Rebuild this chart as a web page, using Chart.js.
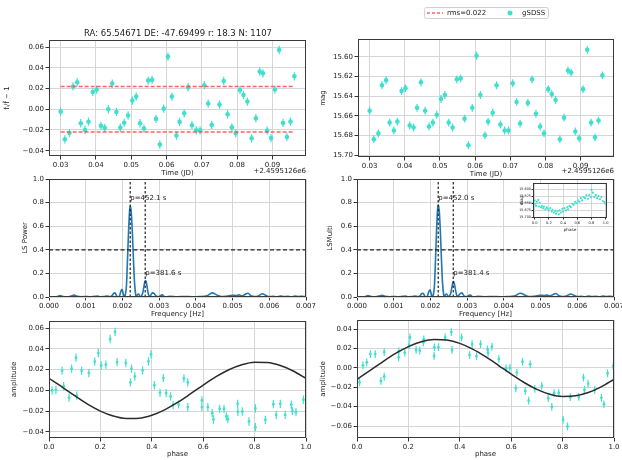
<!DOCTYPE html>
<html>
<head>
<meta charset="utf-8">
<script src="https://cdn.jsdelivr.net/npm/chart.js@4.4.1/dist/chart.umd.min.js"></script>
<style>
  html, body { margin: 0; padding: 0; background: #fff; }
  body { width: 622px; height: 460px; position: relative; overflow: hidden; }
  canvas { position: absolute; }
</style>
</head>
<body>
<canvas id="tl"></canvas>
<canvas id="tr"></canvas>
<canvas id="ml"></canvas>
<canvas id="mr"></canvas>
<canvas id="bl"></canvas>
<canvas id="br"></canvas>
<canvas id="inset"></canvas>
<script>
// light curve (time is JD - 2459512.6)
const timeJD = [0.0300,0.0312,0.0325,0.0335,0.0347,0.0357,0.0369,0.0379,0.0391,0.0402,0.0414,0.0425,0.0435,0.0446,0.0458,0.0469,0.0480,0.0491,0.0503,0.0514,0.0525,0.0536,0.0548,0.0559,0.0570,0.0581,0.0592,0.0604,0.0615,0.0628,0.0637,0.0650,0.0661,0.0672,0.0684,0.0695,0.0707,0.0718,0.0728,0.0750,0.0762,0.0773,0.0785,0.0796,0.0808,0.0818,0.0829,0.0841,0.0853,0.0864,0.0873,0.0885,0.0896,0.0907,0.0919,0.0930,0.0941,0.0951,0.0962];
const relFlux = [-0.0023,-0.029,-0.023,0.022,0.026,-0.0135,-0.020,-0.012,0.0167,0.019,-0.016,-0.018,0.000,0.0248,-0.0026,-0.0177,-0.013,-0.006,0.0084,0.0122,-0.0135,-0.0186,0.0277,0.0283,-0.0093,-0.034,0.0006,0.0508,0.0122,-0.0254,-0.0122,-0.0039,0.0212,-0.0154,-0.0203,-0.0203,0.0232,0.0055,-0.0151,0.0045,0.0273,-0.0048,-0.0174,-0.0232,0.0186,0.0138,0.0074,-0.028,-0.0087,0.0363,0.0347,-0.0206,-0.0277,0.019,0.0572,-0.0132,-0.0267,-0.0119,0.0318];
const magG = [15.655,15.684,15.678,15.629,15.624,15.667,15.675,15.666,15.635,15.632,15.670,15.672,15.652,15.626,15.655,15.671,15.667,15.659,15.643,15.639,15.667,15.672,15.623,15.622,15.663,15.690,15.652,15.599,15.639,15.680,15.666,15.657,15.629,15.669,15.675,15.675,15.627,15.646,15.668,15.647,15.623,15.658,15.671,15.678,15.633,15.638,15.644,15.684,15.662,15.614,15.616,15.676,15.683,15.633,15.593,15.667,15.682,15.665,15.619];
const fluxErr = 0.004;
const magErr = 0.004;
const rms = 0.022;
const jdOffset = '+2.4595126e6';
const titleText = 'RA: 65.54671 DE: -47.69499 r: 18.3 N: 1107';
const timeTicks = [0.03, 0.04, 0.05, 0.06, 0.07, 0.08, 0.09];
const fluxTicks = [-0.04, -0.02, 0, 0.02, 0.04, 0.06];
const magTicks = [15.60, 15.62, 15.64, 15.66, 15.68, 15.70];

// periodograms
const lsFreq = [0.00022,0.00030,0.00038,0.00050,0.00060,0.00068,0.00076,0.00090,0.00100,0.00110,
  0.00125,0.00132,0.00140,0.00150,0.00158,0.00165,0.00172,0.00176,0.00180,0.00184,
  0.00188,0.00192,0.00196,0.00199,0.00202,0.00205,0.00208,0.00211,0.00214,0.00217,
  0.00220,0.00222,0.00224,0.00227,0.00230,0.00233,0.00236,0.00238,0.00241,0.00244,
  0.00247,0.00250,0.00252,0.00255,0.00258,0.00261,0.00263,0.00265,0.00268,0.00271,
  0.00274,0.00278,0.00282,0.00286,0.00290,0.00294,0.00300,0.00305,0.00309,0.00313,
  0.00320,0.00330,0.00350,0.00370,0.00390,0.00410,0.00430,0.00445,0.00460,0.00470,
  0.00480,0.00490,0.00500,0.00510,0.00518,0.00525,0.00533,0.00542,0.00550,0.00560,
  0.00570,0.00582,0.00590,0.00600,0.00610,0.00620,0.00630,0.00640,0.00650,0.00660,
  0.00670,0.00680,0.00690,0.00697];
const lsPower = [0.004,0.012,0.004,0.002,0.008,0.016,0.006,0.002,0.004,0.002,
  0.006,0.008,0.002,0.003,0.008,0.003,0.012,0.030,0.035,0.010,
  0.000,0.010,0.050,0.065,0.030,0.000,0.020,0.100,0.330,0.580,
  0.750,0.770,0.720,0.550,0.320,0.120,0.020,0.000,0.020,0.025,
  0.010,0.000,0.010,0.030,0.080,0.130,0.140,0.125,0.070,0.020,
  0.005,0.020,0.035,0.030,0.015,0.003,0.004,0.015,0.018,0.005,
  0.002,0.005,0.002,0.004,0.002,0.004,0.010,0.035,0.012,0.003,
  0.005,0.010,0.015,0.012,0.018,0.010,0.020,0.032,0.010,0.003,
  0.008,0.028,0.015,0.003,0.005,0.002,0.008,0.003,0.006,0.002,
  0.008,0.004,0.006,0.003];
const lsmPower = [0.004,0.012,0.004,0.002,0.008,0.015,0.006,0.002,0.004,0.002,
  0.006,0.008,0.002,0.003,0.008,0.003,0.010,0.028,0.032,0.010,
  0.000,0.010,0.048,0.062,0.030,0.000,0.020,0.100,0.330,0.590,
  0.760,0.780,0.730,0.560,0.320,0.120,0.020,0.000,0.020,0.025,
  0.010,0.000,0.010,0.028,0.075,0.120,0.130,0.115,0.065,0.020,
  0.005,0.018,0.030,0.035,0.018,0.003,0.004,0.014,0.017,0.005,
  0.002,0.005,0.002,0.004,0.002,0.004,0.010,0.032,0.012,0.003,
  0.005,0.010,0.015,0.012,0.016,0.010,0.020,0.030,0.010,0.003,
  0.008,0.026,0.015,0.003,0.005,0.002,0.008,0.003,0.006,0.002,
  0.008,0.004,0.006,0.003];
const periodsLS = [452.1, 381.6];
const periodsMulti = [452.0, 381.4];
const powerLevel = 0.4;
const freqTicks = [0, 0.001, 0.002, 0.003, 0.004, 0.005, 0.006, 0.007];
const powerTicks = [0, 0.2, 0.4, 0.6, 0.8, 1.0];

// folded light curves
const phaseA = [0.012,0.027,0.051,0.057,0.078,0.088,0.105,0.108,0.127,0.155,0.178,0.192,0.203,0.221,0.238,0.257,0.265,0.299,0.317,0.321,0.334,0.364,0.387,0.397,0.410,0.432,0.445,0.456,0.473,0.483,0.504,0.525,0.540,0.540,0.595,0.595,0.618,0.635,0.640,0.664,0.681,0.690,0.696,0.734,0.735,0.752,0.778,0.803,0.803,0.842,0.873,0.884,0.900,0.919,0.943,0.947,0.961,0.990];
const ampA = [0.000,0.0006,0.019,0.004,-0.007,0.021,0.0315,-0.005,0.019,0.0167,0.0277,0.036,0.024,0.0248,0.0495,0.0563,0.0273,0.0264,0.0077,0.021,0.0135,0.0193,0.028,0.0347,0.005,-0.0023,0.0119,-0.0026,-0.0058,-0.0141,-0.0135,0.0116,0.0077,-0.016,-0.0096,-0.016,-0.016,-0.0219,-0.028,-0.0177,-0.0177,-0.025,-0.0277,-0.0129,-0.0206,-0.0203,-0.0299,-0.0174,-0.0354,-0.0283,-0.0132,-0.0235,-0.0129,-0.0235,-0.0138,-0.020,-0.0209,-0.009];
const phaseB = [0.010,0.023,0.038,0.052,0.071,0.093,0.106,0.106,0.162,0.163,0.186,0.203,0.206,0.230,0.244,0.258,0.260,0.300,0.301,0.317,0.343,0.367,0.370,0.407,0.438,0.448,0.465,0.481,0.508,0.510,0.525,0.552,0.580,0.595,0.618,0.622,0.644,0.655,0.668,0.674,0.692,0.719,0.744,0.758,0.767,0.785,0.802,0.819,0.830,0.863,0.881,0.885,0.899,0.925,0.951,0.961,0.975,0.997];
const ampB = [-0.0148,0.0027,0.0058,0.0144,0.0144,-0.0134,-0.0089,0.0165,0.011,0.0172,0.0158,0.0237,0.0316,0.0186,0.0179,0.0265,0.0296,0.0124,0.0213,0.0216,0.0316,0.0371,0.0186,0.0316,0.0134,0.0247,0.012,0.0247,0.0192,0.0155,0.022,0.0093,-0.0003,0.000,-0.021,-0.0048,0.0065,-0.0237,-0.0337,0.0038,-0.0216,-0.0186,-0.0313,-0.0402,-0.0261,-0.0258,-0.0536,-0.0605,-0.0302,-0.0299,-0.010,-0.0227,-0.0162,-0.0227,-0.0309,-0.0375,-0.0055,0.002];
const modelPhase = [0,0.05,0.10,0.15,0.20,0.25,0.30,0.35,0.40,0.45,0.50,0.55,0.60,0.65,0.70,0.75,0.80,0.85,0.90,0.95,1.00];
const modelA = [0.0116,0.0034,-0.0051,-0.0132,-0.0199,-0.0247,-0.0271,-0.0268,-0.0239,-0.0187,-0.0116,-0.0034,0.0051,0.0132,0.0199,0.0247,0.0271,0.0268,0.0239,0.0187,0.0116];
const modelB = [-0.0117,-0.0028,0.0064,0.0150,0.0221,0.0271,0.0294,0.0288,0.0254,0.0195,0.0117,0.0028,-0.0064,-0.0150,-0.0221,-0.0271,-0.0294,-0.0288,-0.0254,-0.0195,-0.0117];
const ampErr = 0.004;
const phaseTicks = [0, 0.2, 0.4, 0.6, 0.8, 1.0];
const ampTicksA = [-0.04, -0.02, 0, 0.02, 0.04, 0.06];
const ampTicksB = [-0.06, -0.04, -0.02, 0, 0.02, 0.04];

// inset: folded magnitudes
const insetPhase = [0.00,0.01,0.02,0.03,0.05,0.06,0.07,0.09,0.10,0.12,0.13,0.15,0.17,0.18,0.20,0.22,0.24,0.25,0.27,0.29,0.30,0.32,0.34,0.35,0.37,0.39,0.40,0.42,0.44,0.46,0.47,0.49,0.51,0.53,0.55,0.57,0.59,0.61,0.63,0.65,0.67,0.69,0.71,0.73,0.75,0.77,0.79,0.80,0.82,0.84,0.86,0.88,0.90,0.92,0.94,0.96,0.98,1.00];
const insetMag = [15.640,15.652,15.660,15.645,15.638,15.662,15.648,15.665,15.660,15.668,15.662,15.672,15.665,15.670,15.676,15.668,15.680,15.674,15.684,15.678,15.688,15.680,15.690,15.676,15.684,15.670,15.680,15.668,15.676,15.664,15.672,15.660,15.664,15.652,15.656,15.645,15.650,15.640,15.645,15.632,15.640,15.628,15.632,15.622,15.634,15.620,15.628,15.602,15.612,15.628,15.620,15.632,15.624,15.636,15.628,15.642,15.646,15.652];
const insetMagTicks = [15.600, 15.625, 15.650, 15.675, 15.700];

const TURQ = '#40e0d0';
const FONT = "'DejaVu Sans', sans-serif";
Chart.defaults.font.family = FONT;
Chart.defaults.color = '#222';

function fmt(v, d) {
  if (Math.abs(v) < 1e-12) v = 0;
  return (v < 0 ? '\u2212' : '') + Math.abs(v).toFixed(d);
}

function xy(xs, ys) {
  return xs.map((x, i) => ({ x: x, y: ys[i] }));
}

function points(xs, ys, r, err) {
  return {
    data: xy(xs, ys), showLine: false, pointRadius: r, pointBorderWidth: 0,
    backgroundColor: TURQ, borderColor: TURQ, errY: err, errWidth: 1.2
  };
}

function line(data, color, width, dash, smooth) {
  return {
    data: data, showLine: true, pointRadius: 0, borderColor: color, borderWidth: width,
    borderDash: dash || [], fill: false,
    tension: smooth ? 0.4 : 0, cubicInterpolationMode: smooth ? 'monotone' : 'default'
  };
}

function axis(a, size) {
  return {
    type: 'linear', bounds: 'data', min: a.min, max: a.max, reverse: !!a.reverse,
    afterBuildTicks(s) { s.ticks = a.ticks.map(v => ({ value: v })); },
    afterFit(s) {
      if (s.isHorizontal()) s.height = size; else s.width = size;
      s.paddingLeft = s.paddingRight = s.paddingTop = s.paddingBottom = 0;
    },
    ticks: {
      autoSkip: false, maxRotation: 0, minRotation: 0,
      padding: a.tpad ?? 1.5, color: '#222', font: { size: a.fs ?? 7 },
      callback: v => fmt(v, a.dec)
    },
    grid: { color: '#d6d6d6', lineWidth: 1, tickLength: a.tl ?? 3.5, tickColor: '#333', tickWidth: 1 },
    border: { display: false },
    title: { display: true, text: a.title, color: '#222', font: { size: a.tfs ?? 7 }, padding: a.tp }
  };
}

// error bars, frame, free texts
function deco(o) {
  return {
    id: 'deco',
    beforeDraw(chart) {
      if (!o.fill) return;
      const a = chart.chartArea, c = chart.ctx;
      c.save();
      c.fillStyle = o.fill;
      c.fillRect(a.left, a.top, a.width, a.height);
      c.restore();
    },
    beforeDatasetsDraw(chart) {
      const c = chart.ctx, a = chart.chartArea, xs = chart.scales.x, ys = chart.scales.y;
      chart.data.datasets.forEach(ds => {
        if (!ds.errY) return;
        c.save();
        c.beginPath();
        c.rect(a.left, a.top, a.width, a.height);
        c.clip();
        c.strokeStyle = ds.backgroundColor;
        c.lineWidth = ds.errWidth;
        c.beginPath();
        ds.data.forEach(p => {
          const x = xs.getPixelForValue(p.x);
          c.moveTo(x, ys.getPixelForValue(p.y - ds.errY));
          c.lineTo(x, ys.getPixelForValue(p.y + ds.errY));
        });
        c.stroke();
        c.restore();
      });
    },
    afterDraw(chart) {
      const c = chart.ctx, a = chart.chartArea, xs = chart.scales.x, ys = chart.scales.y;
      c.save();
      c.strokeStyle = '#3a3a3a';
      c.lineWidth = 1;
      c.strokeRect(a.left + 0.5, a.top + 0.5, a.width - 1, a.height - 1);
      (o.texts || []).forEach(t => {
        c.font = (t.size || 7) + 'px ' + FONT;
        c.fillStyle = '#222';
        c.textAlign = t.align || 'left';
        c.textBaseline = 'middle';
        let x, y;
        if (t.data) { x = xs.getPixelForValue(t.x); y = ys.getPixelForValue(t.y); }
        else { x = t.x - o.left; y = t.y - o.top; }
        c.fillText(t.text, x, y);
      });
      if (o.legend) o.legend(c, o.left, o.top);
      c.restore();
    }
  };
}

function makeChart(id, box, datasets, xa, ya, o) {
  const el = document.getElementById(id);
  const yw = box.yw ?? 50, pt = box.pt ?? 6, pr = box.pr ?? 10, xh = box.xh ?? 24;
  el.width = yw + box.w + pr;
  el.height = pt + box.h + xh;
  el.style.left = (box.l - yw) + 'px';
  el.style.top = (box.t - pt) + 'px';
  o.left = box.l - yw;
  o.top = box.t - pt;
  return new Chart(el, {
    type: 'scatter',
    data: { datasets: datasets },
    options: {
      responsive: false, animation: false, events: [],
      layout: { padding: { left: 0, top: pt, right: pr, bottom: 0 } },
      plugins: { legend: { display: false }, tooltip: { enabled: false } },
      scales: { x: axis(xa, xh), y: axis(ya, yw) }
    },
    plugins: [deco(o)]
  });
}

const tFirst = timeJD[0], tLast = timeJD[timeJD.length - 1];
const timeAxis = { min: 0.0267, max: 0.0995, ticks: timeTicks, dec: 2, title: 'Time (JD)', tp: { top: 0, bottom: 2.8 } };

// top left: relative flux
makeChart('tl', { l: 49, t: 40, w: 257, h: 116, pt: 40 }, [
  line([{ x: tFirst, y: rms }, { x: tLast, y: rms }], 'rgba(255,70,70,0.85)', 1.6, [4, 2]),
  line([{ x: tFirst, y: -rms }, { x: tLast, y: -rms }], 'rgba(255,70,70,0.85)', 1.6, [4, 2]),
  points(timeJD, relFlux, 2.3, fluxErr)
], timeAxis,
  { min: -0.0451, max: 0.0668, ticks: fluxTicks, dec: 2, title: 'f\u1d62/f\u0304 \u2212 1', tp: { top: 3.8, bottom: 0 } },
  { texts: [
    { text: titleText, x: 178, y: 33.5, align: 'center', size: 8.5 },
    { text: jdOffset, x: 306, y: 171, align: 'right' }
  ] });

// top right: magnitudes
makeChart('tr', { l: 358, t: 39, w: 256, h: 118, pt: 39 }, [
  points(timeJD, magG, 2.3, magErr)
], timeAxis,
  { min: 15.582, max: 15.702, ticks: magTicks, dec: 2, reverse: true, title: 'mag', tp: { top: 10.8, bottom: 0 } },
  { texts: [{ text: jdOffset, x: 614, y: 171, align: 'right' }],
    legend(c, L, T) {
      c.fillStyle = 'rgba(255,255,255,0.9)';
      c.strokeStyle = '#d0d0d0';
      c.lineWidth = 1;
      c.beginPath();
      c.roundRect(424.5 - L, 7.5 - T, 124, 11, 2);
      c.fill();
      c.stroke();
      c.strokeStyle = 'rgba(255,70,70,0.85)';
      c.lineWidth = 1.3;
      c.setLineDash([3, 2]);
      c.beginPath();
      c.moveTo(427 - L, 13 - T);
      c.lineTo(443 - L, 13 - T);
      c.stroke();
      c.setLineDash([]);
      c.fillStyle = TURQ;
      c.beginPath();
      c.arc(510 - L, 13 - T, 2.5, 0, Math.PI * 2);
      c.fill();
      c.fillStyle = '#222';
      c.font = '7px ' + FONT;
      c.textAlign = 'left';
      c.textBaseline = 'middle';
      c.fillText('rms=' + rms.toFixed(3), 447 - L, 13 - T);
      c.fillText('gSDSS', 522 - L, 13 - T);
    } });

// middle: periodograms
const freqAxis = { min: 0, max: 0.007, ticks: freqTicks, dec: 3, title: 'Frequency [Hz]', tp: { top: 0, bottom: 2.8 } };
function periodogram(id, box, power, periods, ylabel, tpad) {
  const f1 = 1 / periods[0], f2 = 1 / periods[1];
  makeChart(id, box, [
    line([{ x: 0, y: powerLevel }, { x: 0.007, y: powerLevel }], '#222', 1.2, [4, 2.5]),
    line([{ x: f1, y: 0 }, { x: f1, y: 1 }], '#222', 1.2, [2.5, 2]),
    line([{ x: f2, y: 0 }, { x: f2, y: 1 }], '#222', 1.2, [2.5, 2]),
    line(xy(lsFreq, power), '#1f77b4', 1.6, null, true)
  ], freqAxis,
    { min: 0, max: 1, ticks: powerTicks, dec: 1, title: ylabel, tp: { top: tpad, bottom: 0 } },
    { texts: [
      { text: 'p=' + periods[0].toFixed(1) + ' s', x: f1, y: 0.84, data: true },
      { text: 'p=' + periods[1].toFixed(1) + ' s', x: f2, y: 0.205, data: true }
    ] });
}
periodogram('ml', { l: 49, t: 179, w: 257, h: 118 }, lsPower, periodsLS, 'LS Power', 21.8);
periodogram('mr', { l: 357, t: 179, w: 257, h: 118 }, lsmPower, periodsMulti, 'LSMulti', 18.8);

// bottom: folded curves with fitted sinusoid
const phaseAxis = { min: 0, max: 1, ticks: phaseTicks, dec: 1, title: 'phase', tp: { top: 0, bottom: 3.8 } };
makeChart('bl', { l: 49, t: 321, w: 257, h: 117 }, [
  line(xy(modelPhase, modelA), '#2b2b2b', 1.5, null, true),
  points(phaseA, ampA, 1.4, ampErr)
], phaseAxis,
  { min: -0.0458, max: 0.0668, ticks: ampTicksA, dec: 2, title: 'amplitude', tp: { top: 10.8, bottom: 0 } },
  {});
makeChart('br', { l: 357, t: 320, w: 257, h: 118 }, [
  line(xy(modelPhase, modelB), '#2b2b2b', 1.5, null, true),
  points(phaseB, ampB, 1.4, ampErr)
], phaseAxis,
  { min: -0.0724, max: 0.0496, ticks: ampTicksB, dec: 2, title: 'amplitude', tp: { top: 11.8, bottom: 0 } },
  {});

// inset in the LSMulti panel
makeChart('inset', { l: 533, t: 182, w: 74, h: 36, yw: 22, pt: 3, pr: 6, xh: 16 }, [
  points(insetPhase, insetMag, 1.1, 0)
], { min: -0.024, max: 1.019, ticks: phaseTicks, dec: 1, title: 'phase', fs: 3.6, tfs: 4.2, tl: 1.5, tpad: 1.5, tp: { top: 0, bottom: 1.4 } },
  { min: 15.577, max: 15.7035, ticks: insetMagTicks, dec: 3, reverse: true, title: 'mag', fs: 3.4, tfs: 4.2, tl: 1.5, tpad: 0.5, tp: { top: 8.2, bottom: 0 } },
  { fill: '#ffffff' });
</script>
</body>
</html>
